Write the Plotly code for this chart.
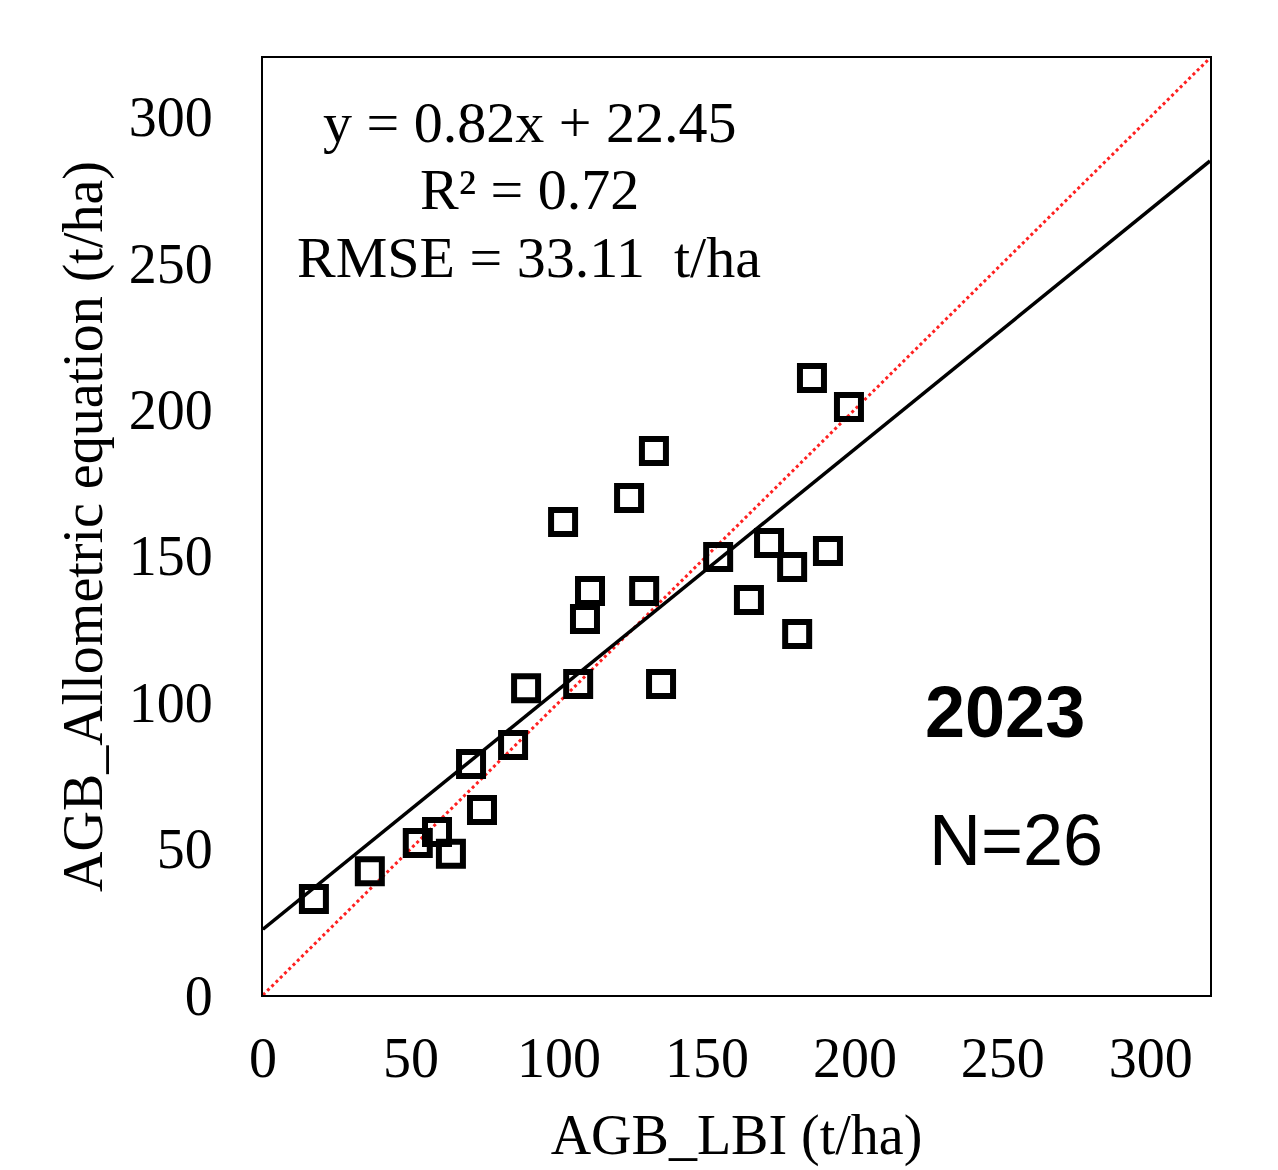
import plotly.graph_objects as go

# Data
agb_lbi = [17.2, 36.1, 52.3, 58.8, 63.5, 70.3, 74.0, 84.5, 88.9, 106.5,
           108.8, 110.5, 101.4, 123.7, 128.8, 132.1, 134.5, 153.8, 164.2,
           171.0, 178.8, 180.5, 190.9, 185.5, 198.0]
agb_allometric = [32.8, 42.3, 51.9, 55.7, 48.2, 78.9, 63.2, 85.4, 104.8, 106.2,
                  128.4, 138.0, 161.5, 169.7, 138.0, 185.8, 106.2, 149.6, 134.9,
                  154.4, 146.2, 123.3, 151.6, 210.7, 200.8]

slope = 0.82
intercept = 22.45
line_x = [0, 320]
fit_y = [intercept + slope * v for v in line_x]
one_to_one = [0, 320]

tick_vals = [0, 50, 100, 150, 200, 250, 300]
tick_text = ["0", "50", "100", "150", "200", "250", "300"]

eq_lines = ["y = 0.82x + 22.45", "R² = 0.72", "RMSE = 33.11  t/ha"]
eq_y = [298, 275, 252]
year_label = "2023"
n_label = "N=26"

serif = "Liberation Serif, Times New Roman, serif"
sans = "Liberation Sans, Arial, sans-serif"

fig = go.Figure()
fig.add_trace(go.Scatter(x=line_x, y=one_to_one, mode="lines",
                         line=dict(color="#ff2020", width=3, dash="dot"),
                         showlegend=False, hoverinfo="skip"))
fig.add_trace(go.Scatter(x=line_x, y=fit_y, mode="lines",
                         line=dict(color="black", width=3.5),
                         showlegend=False, hoverinfo="skip"))
fig.add_trace(go.Scatter(x=agb_lbi, y=agb_allometric, mode="markers",
                         marker=dict(symbol="square-open", size=24, color="black",
                                     line=dict(width=6, color="black")),
                         showlegend=False))

for txt, yy in zip(eq_lines, eq_y):
    fig.add_annotation(x=90, y=yy, xref="x", yref="y", text=txt, showarrow=False,
                       xanchor="center", yanchor="middle",
                       font=dict(family=serif, size=58, color="black"))

fig.add_annotation(x=223, y=96.5, xref="x", yref="y", text="<b>" + year_label + "</b>",
                   showarrow=False, xanchor="left", yanchor="middle",
                   font=dict(family=sans, size=72, color="black"))
fig.add_annotation(x=224.5, y=53, xref="x", yref="y", text=n_label,
                   showarrow=False, xanchor="left", yanchor="middle",
                   font=dict(family=sans, size=72, color="black"))

axis_common = dict(range=[0, 320], showgrid=False, zeroline=False,
                   showline=True, linecolor="black", linewidth=2, mirror=True,
                   ticks="outside", tickcolor="rgba(0,0,0,0)",
                   tickvals=tick_vals, ticktext=tick_text,
                   tickfont=dict(family=serif, size=56, color="black"))

fig.update_xaxes(**axis_common, ticklen=13,
                 title=dict(text="AGB_LBI (t/ha)", font=dict(family=serif, size=56, color="black"),
                            standoff=27))
fig.update_yaxes(**axis_common, ticklen=37,
                 title=dict(text="AGB_Allometric equation (t/ha)",
                            font=dict(family=serif, size=56, color="black"), standoff=8))

fig.update_layout(width=1278, height=1170, autosize=False,
                  margin=dict(l=263, r=68, t=58, b=175),
                  plot_bgcolor="white", paper_bgcolor="white")

fig.write_html("out.html")
